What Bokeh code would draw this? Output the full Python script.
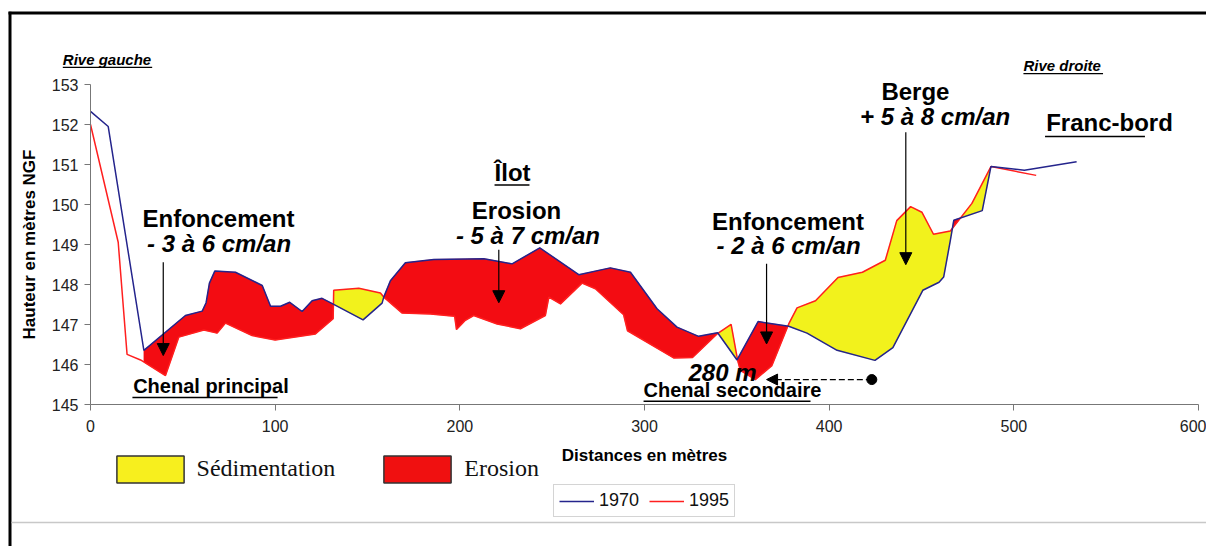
import numpy as np
from bokeh.plotting import figure
from bokeh.models import (Range1d, FixedTicker, Label, Arrow, NormalHead, Legend, LegendItem,
                          LinearAxis)
from bokeh.embed import file_html
from bokeh.resources import INLINE

# ---------------- data ----------------
x_1970 = [0, 9.6, 28.9, 51.4, 60.5, 62.6, 64.4, 67.3, 78.5, 93, 97.5, 102.9, 107.9, 114.6, 120,
          125.4, 131.7, 147.6, 157.9, 158.8, 162.4, 170.5, 185.9, 213, 228.3, 243.3, 264.4, 281.5,
          292.4, 306.8, 317.6, 329.3, 339.6, 350.1, 361.5, 378.1, 388, 404.3, 424.8, 434.5, 450.7,
          459.5, 462, 465.6, 467.5, 482.9, 487.6, 505.7, 534]
y_1970 = [152.33, 151.95, 146.36, 147.23, 147.34, 147.55, 148.04, 148.34, 148.31, 147.98, 147.46,
          147.46, 147.56, 147.33, 147.6, 147.66, 147.51, 147.12, 147.54, 147.69, 148.1, 148.55,
          148.63, 148.65, 148.52, 148.92, 148.25, 148.42, 148.31, 147.40, 146.94, 146.71, 146.80,
          146.12, 147.08, 146.96, 146.79, 146.36, 146.11, 146.43, 147.86, 148.06, 148.19, 149.10,
          149.61, 149.85, 150.95, 150.86, 151.07]

x_1995 = [0, 15, 19.8, 27.1, 40.6, 47.8, 61.4, 68.6, 73.1, 87.5, 100, 121.8, 131.4, 131.7, 145.3,
          157, 158.8, 168.8, 184.1, 197.2, 198.2, 203, 207.5, 220.2, 232.8, 246.3, 248.2, 254.5,
          266.2, 273.4, 288.7, 290.8, 315.8, 326, 339.3, 346.9, 350.4, 351.9, 360, 369, 378.1,
          382.6, 392.6, 404.8, 418, 430.4, 436.6, 444.1, 450.2, 456.5, 465.6, 477.3, 487.6, 512.1]
y_1995 = [152.0, 149.06, 146.26, 146.12, 145.73, 146.69, 146.87, 146.79, 147.04, 146.73, 146.62,
          146.77, 147.15, 147.86, 147.91, 147.79, 147.69, 147.29, 147.27, 147.21, 146.88, 147.11,
          147.23, 147.02, 146.9, 147.23, 147.69, 147.52, 148.04, 147.9, 147.25, 146.85, 146.17,
          146.18, 146.77, 147.01, 146.12, 145.86, 145.63, 145.98, 147.02, 147.42, 147.6, 148.18,
          148.31, 148.61, 149.6, 149.95, 149.81, 149.26, 149.34, 150.03, 150.95, 150.73]

fill_start, fill_end = 28.9, 487.6
x_ticks = [0, 100, 200, 300, 400, 500, 600]
y_ticks = [145, 146, 147, 148, 149, 150, 151, 152, 153]

C_1970 = "#24248c"
C_1995 = "#ff1f1f"
C_SED = "#f2f21c"
C_ERO = "#f30c12"
FONT = "Liberation Sans"

# ---------------- canvas / scale ----------------
W, H = 1206, 546
AX_LEFT, AX_TOP = 90, 84            # pixel position of (0 m, 153 m)
PX_X = 1108 / 600                   # pixels per metre (distance)
PX_Y = 320.3 / 8                    # pixels per metre (height)
x_lo = -AX_LEFT / PX_X
x_hi = (W - AX_LEFT) / PX_X
y_hi = 153 + AX_TOP / PX_Y
y_lo = 153 - (H - AX_TOP) / PX_Y

p = figure(width=W, height=H, output_backend="svg", toolbar_location=None,
           x_range=Range1d(x_lo, x_hi), y_range=Range1d(y_lo, y_hi),
           x_axis_location=None, y_axis_location=None,
           min_border_left=0, min_border_right=0, min_border_top=0, min_border_bottom=0)
p.outline_line_color = None
p.background_fill_color = "white"
p.border_fill_color = "white"
for g in p.grid:
    g.visible = False

xaxis = LinearAxis(fixed_location=145, bounds=(0, 600), ticker=FixedTicker(ticks=x_ticks),
                   axis_label="Distances en mètres")
yaxis = LinearAxis(fixed_location=0, bounds=(145, 153), ticker=FixedTicker(ticks=y_ticks),
                   axis_label="Hauteur en mètres NGF")
for ax in (xaxis, yaxis):
    ax.axis_line_color = "#777777"
    ax.major_tick_line_color = "#777777"
    ax.minor_tick_line_color = None
    ax.major_tick_in = 0
    ax.major_tick_out = 6
    ax.major_label_text_font = FONT
    ax.major_label_text_font_size = "16px"
    ax.major_label_text_color = "#222222"
    ax.axis_label_text_font = FONT
    ax.axis_label_text_font_style = "bold"
    ax.axis_label_text_font_size = "17px"
    ax.axis_label_text_color = "black"
xaxis.major_label_standoff = 9
yaxis.major_label_standoff = 6
xaxis.axis_label_standoff = 11
yaxis.axis_label_standoff = 10
p.add_layout(xaxis, "below")
p.add_layout(yaxis, "left")


# ---------------- fills between the two profiles ----------------
def fill_regions(xa, ya, xb, yb, x0, x1):
    xs = sorted(set([v for v in xa + xb if x0 < v < x1] + [x0, x1]))
    pts = [(x, float(np.interp(x, xa, ya)), float(np.interp(x, xb, yb))) for x in xs]
    polys = []
    cur = [pts[0]]
    for q0, q1 in zip(pts[:-1], pts[1:]):
        d0 = q0[2] - q0[1]
        d1 = q1[2] - q1[1]
        if d0 * d1 < 0:
            t = d0 / (d0 - d1)
            xc = q0[0] + t * (q1[0] - q0[0])
            yc = q0[1] + t * (q1[1] - q0[1])
            cur.append((xc, yc, yc))
            polys.append(cur)
            cur = [(xc, yc, yc)]
        cur.append(q1)
        if d1 == 0 and len(cur) > 1:
            polys.append(cur)
            cur = [q1]
    if len(cur) > 1:
        polys.append(cur)
    out = {"sed": ([], []), "ero": ([], [])}
    for poly in polys:
        s = sum(q[2] - q[1] for q in poly)
        if s == 0:
            continue
        key = "sed" if s > 0 else "ero"
        px = [q[0] for q in poly] + [q[0] for q in reversed(poly)]
        py = [q[1] for q in poly] + [q[2] for q in reversed(poly)]
        out[key][0].append(px)
        out[key][1].append(py)
    return out


regions = fill_regions(x_1970, y_1970, x_1995, y_1995, fill_start, fill_end)
p.patches(regions["sed"][0], regions["sed"][1], fill_color=C_SED, line_color=C_SED, line_width=0.5)
p.patches(regions["ero"][0], regions["ero"][1], fill_color=C_ERO, line_color=C_ERO, line_width=0.5)

r95 = p.line(x_1995, y_1995, line_color=C_1995, line_width=1.5)
r70 = p.line(x_1970, y_1970, line_color=C_1970, line_width=1.5)

# legend proxies for the fills (no visible geometry)
nan = [float("nan")]
d_sed = p.quad(left=nan, right=nan, top=nan, bottom=nan, fill_color="#f7ef1e",
               line_color="#333333", line_width=1.5)
d_ero = p.quad(left=nan, right=nan, top=nan, bottom=nan, fill_color="#f01010",
               line_color="#333333", line_width=1.5)

leg_fill = Legend(items=[LegendItem(label="Sédimentation", renderers=[d_sed], index=0),
                         LegendItem(label="Erosion", renderers=[d_ero], index=0)],
                  location=(107.6, H - 485.6), orientation="horizontal",
                  glyph_width=84, glyph_height=34, label_standoff=5, spacing=40,
                  padding=0, margin=0, border_line_color=None, background_fill_alpha=0,
                  label_text_font="Liberation Serif", label_text_font_size="24px",
                  label_text_color="#111111")
p.add_layout(leg_fill)

leg_years = Legend(items=[LegendItem(label="1970", renderers=[r70]),
                          LegendItem(label="1995", renderers=[r95])],
                   location=(553, H - 517), orientation="horizontal",
                   glyph_width=35, glyph_height=18, label_standoff=5, spacing=10,
                   padding=5, margin=0, border_line_color="#aaaaaa", border_line_width=1,
                   background_fill_color="white",
                   label_text_font=FONT, label_text_font_size="18px", label_text_color="#111111")
p.add_layout(leg_years)


# ---------------- annotations ----------------
def txt(x, y, s, size, style="bold", align="left"):
    p.add_layout(Label(x=x, y=y, text=s, text_font=FONT, text_font_size=size,
                       text_font_style=style, text_align=align, text_baseline="middle",
                       text_color="black"))


def seg(x0, y0, x1, y1, width=1.5, color="black"):
    p.segment(x0=[x0], y0=[y0], x1=[x1], y1=[y1], line_color=color, line_width=width)


def arrow(x0, y0, x1, y1, size=12, dash="solid"):
    p.add_layout(Arrow(x_start=x0, y_start=y0, x_end=x1, y_end=y1, start=None,
                       end=NormalHead(size=size, fill_color="black", line_color="black", line_width=1),
                       line_color="black", line_width=1.2, line_dash=dash))


txt(-15.0, 153.627, "Rive gauche", "15px", "bold italic")
seg(-15.0, 153.43, 33.4, 153.43, width=1.2)
txt(505.2, 153.467, "Rive droite", "15px", "bold italic")
seg(505.2, 153.27, 548.3, 153.27, width=1.2)

txt(69.3, 149.643, "Enfoncement", "24px", "bold", "center")
txt(69.6, 149.019, "- 3 à 6 cm/an", "24px", "bold italic", "center")
arrow(39.4, 148.56, 39.4, 146.23)

txt(23.1, 145.462, "Chenal principal", "20px", "bold")
seg(22.7, 145.18, 101.3, 145.18, width=1.5)

txt(218.8, 150.792, "Îlot", "24px", "bold")
seg(218.8, 150.49, 237.7, 150.49, width=1.5)
txt(230.7, 149.843, "Erosion", "24px", "bold", "center")
txt(236.9, 149.236, "- 5 à 7 cm/an", "24px", "bold italic", "center")
arrow(221.1, 148.87, 221.1, 147.55)

txt(377.7, 149.568, "Enfoncement", "24px", "bold", "center")
txt(378.0, 148.969, "- 2 à 6 cm/an", "24px", "bold italic", "center")
arrow(366.1, 148.52, 366.1, 146.52)

txt(323.8, 145.797, "280 m", "24px", "bold italic")
arrow(423.1, 145.63, 366.1, 145.63, size=11, dash="6 3")
p.scatter([423.1], [145.63], size=10, color="black")

txt(299.5, 145.363, "Chenal secondaire", "20px", "bold")
seg(299.5, 145.09, 389.9, 145.09, width=1.5)

txt(446.7, 152.833, "Berge", "24px", "bold", "center")
txt(457.4, 152.191, "+ 5 à 8 cm/an", "24px", "bold italic", "center")
arrow(441.5, 151.81, 441.5, 148.50)

txt(517.5, 152.048, "Franc-bord", "24px", "bold")
seg(516.9, 151.70, 571.0, 151.70, width=1.5)

# page frame lines
seg(-44.4, 154.786, 606.5, 154.786, width=3)
seg(-43.59, 154.82, -43.59, 141.4, width=3)
seg(-42.78, 142.06, 606.5, 142.06, width=1.5, color="#c8c8c8")

open("out.html", "w").write(file_html(p, INLINE))
